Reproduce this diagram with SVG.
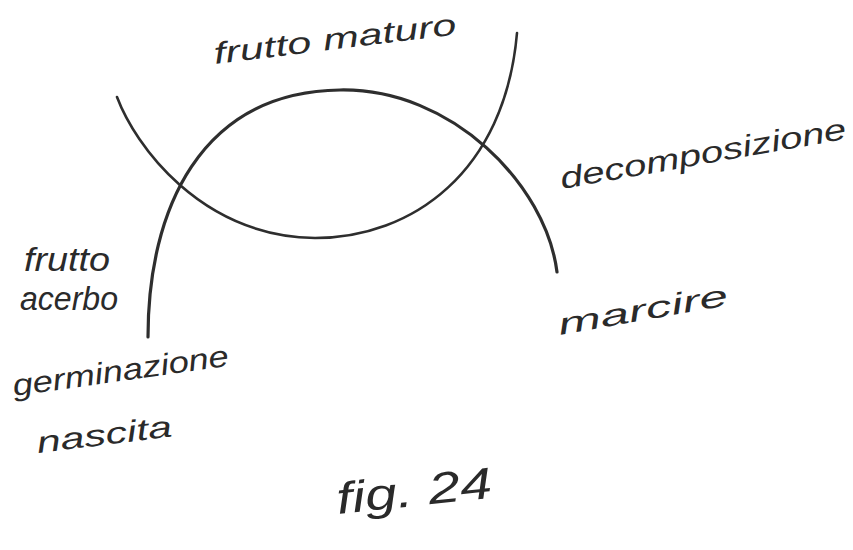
<svg xmlns="http://www.w3.org/2000/svg" width="853" height="550" viewBox="0 0 853 550">
<style>
.lbl{font-family:"Liberation Sans","DejaVu Sans",sans-serif;font-style:italic;fill:#2a2a2a;font-size:30px}
.arc{fill:none;stroke:#2e2e2e;stroke-linecap:round}
</style>
<rect width="853" height="550" fill="#ffffff"/>
<g id="connectors">
<path id="dome" class="arc" stroke-width="3.2" d="M148,337 C148,210 200,92 340,90 C452,88 546,185 557,272"/>
<path id="bowl" class="arc" stroke-width="2.6" d="M117,97 C135,145 200,236 315,238 C412,238 505,172 517,33"/>
</g>
<g id="frutto-maturo"><text class="lbl" transform="translate(215,64) rotate(-7)" textLength="244" lengthAdjust="spacingAndGlyphs">frutto maturo</text></g>
<g id="decomposizione"><text class="lbl" transform="translate(562,189) rotate(-10)" textLength="290" lengthAdjust="spacingAndGlyphs">decomposizione</text></g>
<g id="frutto-acerbo">
<text class="lbl" style="font-size:33px" x="24" y="271" textLength="86" lengthAdjust="spacingAndGlyphs">frutto</text>
<text class="lbl" style="font-size:33px" x="20" y="310" textLength="98" lengthAdjust="spacingAndGlyphs">acerbo</text>
</g>
<g id="marcire"><text class="lbl" transform="translate(560,335) rotate(-10)" textLength="172" lengthAdjust="spacingAndGlyphs">marcire</text></g>
<g id="germinazione-nascita">
<text class="lbl" transform="translate(14,396) rotate(-8)" textLength="218" lengthAdjust="spacingAndGlyphs">germinazione</text>
<text class="lbl" transform="translate(38,453) rotate(-7)" textLength="136" lengthAdjust="spacingAndGlyphs">nascita</text>
</g>
<g id="caption"><text class="lbl" style="font-size:44px" transform="translate(338,514) rotate(-6)" textLength="156" lengthAdjust="spacingAndGlyphs">fig. 24</text></g>
</svg>
